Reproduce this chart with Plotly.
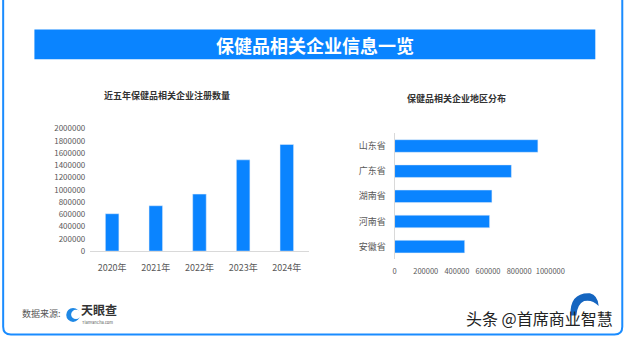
import plotly.graph_objects as go

W, H = 640, 339
FONT = "Noto Sans CJK SC"
BLUE = "#0A84FF"

# ---- data ----
years = ["2020年", "2021年", "2022年", "2023年", "2024年"]
registrations = [610000, 740000, 930000, 1490000, 1740000]

provinces = ["山东省", "广东省", "湖南省", "河南省", "安徽省"]
province_counts = [920000, 750000, 625000, 610000, 450000]

main_title = "保健品相关企业信息一览"
left_title = "近五年保健品相关企业注册数量"
right_title = "保健品相关企业地区分布"


def px(x):
    return x / W


def py(y):
    return 1 - y / H


fig = go.Figure()

fig.add_trace(go.Bar(x=years, y=registrations, marker_color=BLUE,
                     xaxis="x", yaxis="y", showlegend=False))
fig.add_trace(go.Bar(x=province_counts, y=provinces, orientation="h",
                     marker_color=BLUE, xaxis="x2", yaxis="y2", showlegend=False,
                     width=0.5))

tickfont = dict(family=FONT, size=8, color="#595959")

fig.update_layout(
    width=W, height=H, margin=dict(l=0, r=0, t=0, b=0),
    paper_bgcolor="white", plot_bgcolor="white",
    font=dict(family=FONT),
    bargap=0.69,
    xaxis=dict(domain=[px(90.7), px(315)], anchor="y", showgrid=False,
               showline=True, linecolor="#D9D9D9", linewidth=1,
               ticks="", ticklabelstandoff=8,
               tickfont=dict(family=FONT, size=9, color="#595959"),
               fixedrange=True),
    yaxis=dict(domain=[py(253.3), py(126.7)], anchor="x", range=[0, 2000000],
               dtick=200000, tickformat="d", showgrid=False, zeroline=False,
               showline=False, ticks="", ticklabelstandoff=4,
               tickfont=tickfont, fixedrange=True),
    xaxis2=dict(domain=[px(403.3), px(563.3)], anchor="y2", range=[0, 1000000],
                dtick=200000, tickformat="d", tickangle=0, showgrid=False,
                zeroline=False, showline=False, ticks="", ticklabelstandoff=6,
                tickfont=dict(family=FONT, size=7.5, color="#595959"),
                fixedrange=True),
    yaxis2=dict(domain=[py(261.7), py(131.7)], anchor="x2",
                categoryorder="array", categoryarray=provinces[::-1],
                showgrid=False, showline=True, linecolor="#D9D9D9", linewidth=1,
                ticks="", ticklabelstandoff=6,
                tickfont=dict(family=FONT, size=9, color="#595959"),
                fixedrange=True),
)

shapes = []
# banner
shapes.append(dict(type="rect", xref="paper", yref="paper",
                   x0=px(33.3), x1=px(609.5), y0=py(55), y1=py(24.3),
                   fillcolor=BLUE, line=dict(width=0), layer="below"))

# outer rounded frame
x0, x1, yt, yb, r = 1.2, 637.2, -20, 339.6, 8
path = (f"M {px(x0)},{py(yt)} L {px(x0)},{py(yb - r)} "
        f"Q {px(x0)},{py(yb)} {px(x0 + r)},{py(yb)} "
        f"L {px(x1 - r)},{py(yb)} Q {px(x1)},{py(yb)} {px(x1)},{py(yb - r)} "
        f"L {px(x1)},{py(yt)}")
shapes.append(dict(type="path", xref="paper", yref="paper", path=path,
                   line=dict(color="#1A8CFF", width=2)))

# tianyancha icon (crescent)
shapes.append(dict(type="circle", xref="paper", yref="paper",
                   x0=px(66), x1=px(80), y0=py(326.5), y1=py(312),
                   fillcolor="#1E88E5", line=dict(width=0)))
shapes.append(dict(type="circle", xref="paper", yref="paper",
                   x0=px(71), x1=px(81), y0=py(323.5), y1=py(314),
                   fillcolor="white", line=dict(width=0)))

# watermark logo swoosh (behind text)
shapes.append(dict(type="path", xref="paper", yref="paper", layer="below",
                   path=(f"M {px(584)},{py(320)} Q {px(583)},{py(296)} {px(604)},{py(297)} "
                         f"Q {px(612)},{py(299)} {px(613)},{py(310)} "
                         f"Q {px(606)},{py(303)} {px(598)},{py(305)} "
                         f"Q {px(591)},{py(308)} {px(590)},{py(320)} Z"),
                   fillcolor="#1565C0", line=dict(width=0)))
fig.update_layout(shapes=shapes)

ann = []
ann.append(dict(text=f"<b>{main_title}</b>", x=px(321.5), y=py(40),
                xref="paper", yref="paper", showarrow=False,
                font=dict(family=FONT, size=18, color="white"),
                xanchor="center", yanchor="middle"))
ann.append(dict(text=f"<b>{left_title}</b>", x=px(169.7), y=py(92.7),
                xref="paper", yref="paper", showarrow=False,
                font=dict(family=FONT, size=9, color="#333333"),
                xanchor="center", yanchor="middle"))
ann.append(dict(text=f"<b>{right_title}</b>", x=px(467), y=py(95.7),
                xref="paper", yref="paper", showarrow=False,
                font=dict(family=FONT, size=9, color="#333333"),
                xanchor="center", yanchor="middle"))
ann.append(dict(text="数据来源:", x=px(18), y=py(318),
                xref="paper", yref="paper", showarrow=False,
                font=dict(family=FONT, size=9, color="#555555"),
                xanchor="left", yanchor="middle"))
ann.append(dict(text="<b>天眼查</b>", x=px(80), y=py(313.5),
                xref="paper", yref="paper", showarrow=False, borderpad=0,
                font=dict(family=FONT, size=12, color="#333333"),
                xanchor="left", yanchor="middle"))
ann.append(dict(text="TianYanCha.com", x=px(81), y=py(326.8),
                xref="paper", yref="paper", showarrow=False, borderpad=0,
                font=dict(family=FONT, size=4, color="#555555"),
                xanchor="left", yanchor="middle"))
ann.append(dict(text="头条 @首席商业智慧", x=px(630), y=py(322),
                xref="paper", yref="paper", showarrow=False,
                font=dict(family=FONT, size=16, color="#222222"),
                xanchor="right", yanchor="middle"))
fig.update_layout(annotations=ann)

fig.write_html("out.html")
